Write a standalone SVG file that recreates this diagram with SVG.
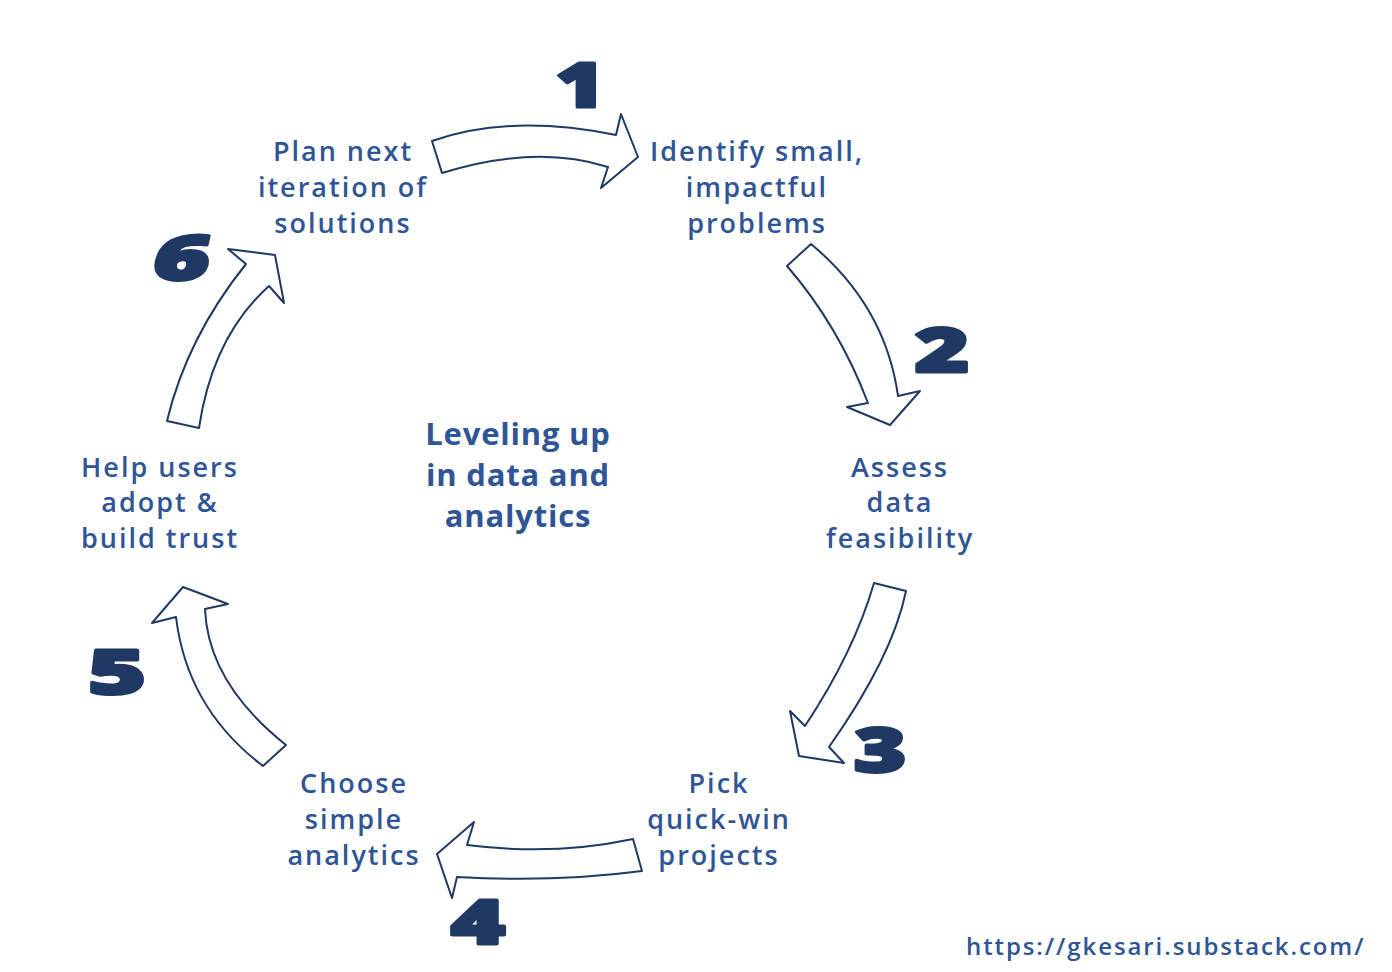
<svg xmlns="http://www.w3.org/2000/svg" width="1392" height="972" viewBox="0 0 1392 972">
<style>
.lbl{font-family:"Open Sans","Noto Sans","Liberation Sans",sans-serif;font-size:27px;font-weight:600;fill:#2f5597;text-anchor:middle;letter-spacing:2px}
.ctr{font-family:"Open Sans","Noto Sans","Liberation Sans",sans-serif;font-size:31px;font-weight:700;fill:#2f5597;text-anchor:middle;letter-spacing:0.8px}
.num{font-family:"Open Sans","Noto Sans","Liberation Sans",sans-serif;font-size:62px;font-weight:800;fill:#1f3864;stroke:#1f3864;stroke-width:3;stroke-linejoin:round;text-anchor:middle}
.url{font-family:"Open Sans","Noto Sans","Liberation Sans",sans-serif;font-size:24px;font-weight:600;fill:#2f5597;letter-spacing:1.9px}
.arr{fill:#ffffff;stroke:#1f3864;stroke-width:2;stroke-linejoin:round}
</style>
<rect width="1392" height="972" fill="#ffffff"/>
<g id="connectors">
  <path id="arrow1" class="arr" d="M432,141 Q509.5,113.5 616,135 L621,114 L638,157 L601,188 L608,167 Q535,144 442,173 Z"/>
  <path id="arrow2" class="arr" d="M811,244 Q885.5,306 898,396 L920,391 L890,425 L847,407 L868,403 Q838.5,325.5 787,266 Z"/>
  <path id="arrow3" class="arr" d="M874,583 L906,591 Q892.5,657 829,747 L844,763 L799,756 L790,711 L805,726 Q854,652 874,583 Z"/>
  <path id="arrow4" class="arr" d="M633,839 L642,871 Q554,882.6 457,877 L452,898 L437,854 L474,822 L467,845 Q554,856 633,839 Z"/>
  <path id="arrow5" class="arr" d="M263,766 L286,745 Q208,683 205,609 L228,604 L183,587 L152,623 L176,617 Q187,708.5 263,766 Z"/>
  <path id="arrow6" class="arr" d="M167,421 L199,428 Q212.6,336.4 269,286 L284,303 L275,255 L228,249 L246,264 Q187,337.5 167,421 Z"/>
</g>
<g id="node1">
  <text class="lbl" x="757" y="161">Identify small,</text>
  <text class="lbl" x="757" y="197">impactful</text>
  <text class="lbl" x="757" y="233">problems</text>
</g>
<g id="node2">
  <text class="lbl" x="900" y="477">Assess</text>
  <text class="lbl" x="900" y="512">data</text>
  <text class="lbl" x="900" y="548">feasibility</text>
</g>
<g id="node3">
  <text class="lbl" x="719" y="793">Pick</text>
  <text class="lbl" x="719" y="829">quick-win</text>
  <text class="lbl" x="719" y="865">projects</text>
</g>
<g id="node4">
  <text class="lbl" x="354" y="793">Choose</text>
  <text class="lbl" x="354" y="829">simple</text>
  <text class="lbl" x="354" y="865">analytics</text>
</g>
<g id="node5">
  <text class="lbl" x="160" y="477">Help users</text>
  <text class="lbl" x="160" y="512">adopt &amp;</text>
  <text class="lbl" x="160" y="548">build trust</text>
</g>
<g id="node6">
  <text class="lbl" x="343" y="161">Plan next</text>
  <text class="lbl" x="343" y="197">iteration of</text>
  <text class="lbl" x="343" y="233">solutions</text>
</g>
<g id="center">
  <text class="ctr" x="518" y="445">Leveling up</text>
  <text class="ctr" x="518" y="486">in data and</text>
  <text class="ctr" x="518" y="527">analytics</text>
</g>
<g id="numbers">
  <text class="num" transform="translate(580,107) scale(1.35,1)">1</text>
  <text class="num" transform="translate(942,372) scale(1.5,1)">2</text>
  <text class="num" transform="translate(880,772) scale(1.45,1)">3</text>
  <text class="num" transform="translate(478,944) scale(1.5,1)">4</text>
  <text class="num" transform="translate(117,694) scale(1.6,1)">5</text>
  <text class="num" transform="translate(178,280) scale(1.55,1) skewX(-8)">6</text>
</g>
<g id="footer">
  <text class="url" x="966" y="955">https://gkesari.substack.com/</text>
</g>
</svg>
